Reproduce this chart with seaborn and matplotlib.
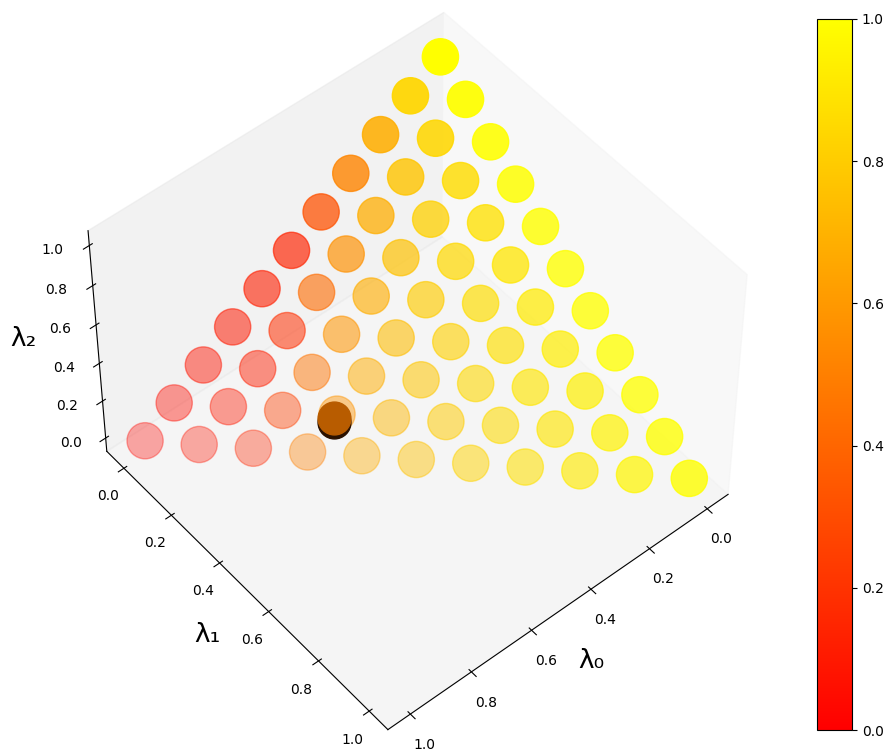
import numpy as np
import matplotlib.pyplot as plt
import matplotlib.colors as mcolors
import matplotlib.cm as cm
import seaborn as sns

levels = [0.0, 0.1, 0.2, 0.3, 0.4, 0.5, 0.6, 0.7, 0.8, 0.9, 1.0]

# colour value of every lattice point, one list per lambda0 level,
# each list running from lambda1 = 0 upwards
row_0 = [1.0, 1.0, 1.0, 1.0, 1.0, 1.0, 1.0, 1.0, 1.0, 1.0, 1.0]
row_1 = [0.84, 0.84, 0.86, 0.88, 0.9, 0.92, 0.93, 0.94, 0.95, 0.96]
row_2 = [0.68, 0.77, 0.82, 0.85, 0.87, 0.88, 0.9, 0.9, 0.92]
row_3 = [0.52, 0.68, 0.76, 0.8, 0.82, 0.85, 0.86, 0.88]
row_4 = [0.32, 0.57, 0.68, 0.74, 0.78, 0.8, 0.83]
row_5 = [0.14, 0.42, 0.58, 0.68, 0.72, 0.76]
row_6 = [0.12, 0.18, 0.45, 0.58, 0.68]
row_7 = [0.1, 0.12, 0.25, 0.5]
row_8 = [0.08, 0.1, 0.15]
row_9 = [0.05, 0.08]
row_10 = [0.03]
rows = [row_0, row_1, row_2, row_3, row_4, row_5, row_6, row_7, row_8, row_9, row_10]

# the two dark points near the middle
best_l0 = [0.605, 0.605]
best_l1 = [0.295, 0.295]
best_l2 = [0.055, 0.08]
best_colors = ['#2b1200', '#b85c00']

ticks = [0.0, 0.2, 0.4, 0.6, 0.8, 1.0]

l0, l1, l2, vals = [], [], [], []
for i, row in enumerate(rows):
    for j, v in enumerate(row):
        l0.append(levels[i])
        l1.append(levels[j])
        l2.append(levels[len(rows) - 1 - i - j])
        vals.append(v)
l0, l1, l2 = np.array(l0), np.array(l1), np.array(l2)

cmap = sns.color_palette('autumn', as_cmap=True)
norm = mcolors.Normalize(0, 1)

# fade towards the lambda0 corner, as the depth shading does in the picture
rgba = cmap(norm(vals))
rgba[:, 3] = 0.34 + 0.66 * l2 + 0.46 * l1 ** 2

fig = plt.figure(figsize=(8.88, 7.51), dpi=100)
ax = fig.add_axes([0.058, 0.0275, 0.80, 0.945], projection='3d')
ax.computed_zorder = False
ax.view_init(elev=51, azim=50)
ax.set_proj_type('persp', focal_length=1.2)
ax.set_box_aspect((1, 1, 0.77), zoom=1.0)

ax.scatter(l0, l1, l2, c=rgba, s=680, depthshade=False, zorder=1)
for i in range(len(best_l0)):
    ax.scatter([best_l0[i]], [best_l1[i]], [best_l2[i]], color=best_colors[i],
               s=560, depthshade=False, zorder=2 + i)

ax.grid(False)
ax.set_xticks(ticks)
ax.set_yticks(ticks)
ax.set_zticks(ticks)
ax.tick_params(axis='x', labelsize=10, pad=5)
ax.tick_params(axis='y', labelsize=10, pad=5)
ax.tick_params(axis='z', labelsize=10, pad=7)
ax.set_xlabel('λ₀', fontsize=19, labelpad=7)
ax.set_ylabel('λ₁', fontsize=19, labelpad=8)
ax.zaxis.set_rotate_label(False)
ax.set_zlabel('λ₂', fontsize=19, labelpad=10, rotation=0)

cax = fig.add_axes([816.5 / 888, 1 - 730 / 751, 35.5 / 888, 711 / 751])
cb = fig.colorbar(cm.ScalarMappable(norm=norm, cmap=cmap), cax=cax)
cb.set_ticks(ticks)
cb.ax.tick_params(labelsize=10)

fig.savefig('out.png', dpi=100)
